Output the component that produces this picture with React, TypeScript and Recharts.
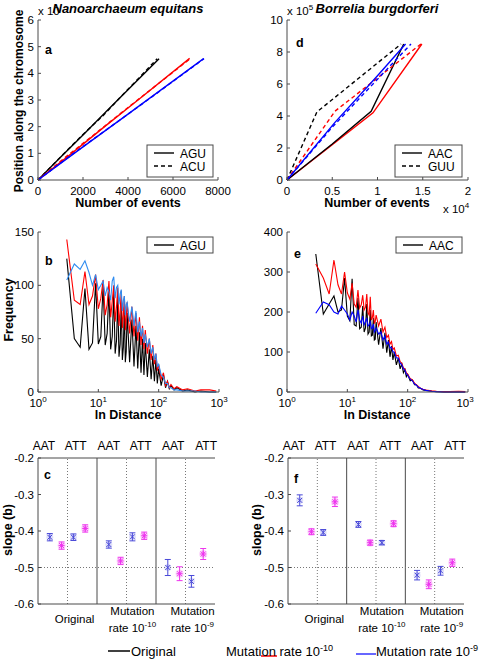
import React from 'react';
import { LineChart, Line, XAxis, YAxis, ScatterChart, Scatter, ErrorBar, ReferenceLine } from 'recharts';

const FONT = '"Liberation Sans", Arial, Helvetica, sans-serif';
const FRAME = '#4a4a4a';

// ---- panel a : Nanoarchaeum equitans, cumulative position (x 10^5) ----
const aBlackSolidX = [0, 1000, 2000, 3000, 4000, 5380];
const aBlackSolidY = [0, 0.85, 1.69, 2.54, 3.38, 4.55];
const aBlackDashX = [0, 1000, 2000, 2900, 3300, 3700, 4300, 5300];
const aBlackDashY = [0, 0.86, 1.71, 2.42, 2.78, 3.14, 3.66, 4.55];
const aRedSolidX = [0, 1500, 3000, 4500, 6740];
const aRedSolidY = [0, 1.0, 2.03, 3.04, 4.56];
const aRedDashX = [0, 1200, 2400, 3600, 4800, 6780];
const aRedDashY = [0, 0.84, 1.64, 2.45, 3.25, 4.56];
const aBlueSolidX = [0, 2000, 4000, 7360];
const aBlueSolidY = [0, 1.24, 2.47, 4.55];
const aBlueDashX = [0, 1500, 3000, 5000, 7380];
const aBlueDashY = [0, 0.95, 1.86, 3.08, 4.55];

// ---- panel d : Borrelia burgdorferi (x in 10^4, y in 10^5) ----
const dBlackSolidX = [0, 0.5, 0.93, 1.29];
const dBlackSolidY = [0, 2.25, 4.3, 8.5];
const dRedSolidX = [0, 0.5, 0.95, 1.49];
const dRedSolidY = [0, 2.2, 4.2, 8.5];
const dBlackDashX = [0, 0.33, 1.26];
const dBlackDashY = [0, 4.25, 8.5];
const dRedDashX = [0, 0.53, 1.48];
const dRedDashY = [0, 4.3, 8.5];
const dBlueSolidX = [0, 0.53, 0.99, 1.31];
const dBlueSolidY = [0, 3.6, 6.45, 8.5];
const dBlueDashX = [0, 0.5, 1.0, 1.37];
const dBlueDashY = [0, 3.3, 6.3, 8.5];

// ---- panels b / e : frequency vs distance ----
const distX = [
  3, 4, 5, 6, 7, 8, 9, 10, 11, 12, 13, 14, 15, 16, 17, 18, 19, 20, 21, 22, 23, 24, 25, 26, 27, 28, 29, 30,
  33, 36, 39, 42, 45, 48, 51, 54, 57, 60,
  65, 70, 75, 80, 85, 90, 95, 100,
  110, 120, 130, 140, 150, 160, 180, 200,
  250, 300, 400, 500, 700, 900,
];
const bBlack = [
  125, 50, 42, 97, 40, 46, 102, 45, 52, 100, 44, 55, 96, 40, 52, 92, 36, 48, 88, 33, 45, 84, 30, 42, 80, 28, 38, 74,
  28, 68, 24, 62, 22, 56, 18, 50, 16, 46,
  14, 40, 12, 34, 10, 30, 8, 22,
  6, 16, 4, 10, 3, 6, 2, 4,
  1, 2, 0, 1, 0, 0,
];
const bRed = [
  143, 86, 82, 113, 82, 90, 110, 78, 88, 105, 72, 82, 104, 70, 85, 100, 66, 80, 98, 62, 76, 95, 60, 72, 90, 58, 70, 84,
  55, 80, 52, 74, 48, 70, 44, 62, 40, 58,
  36, 50, 30, 44, 26, 36, 20, 26,
  12, 18, 6, 10, 4, 7, 3, 5,
  2, 3, 1, 2, 2, 1,
];
const bBlue = [
  105, 120, 115, 123, 112, 100, 110, 96, 100, 104, 90, 98, 94, 86, 104, 108, 88, 98, 100, 82, 92, 96, 76, 86, 90, 72, 82, 84,
  66, 80, 62, 76, 56, 66, 52, 60, 46, 54,
  42, 50, 36, 42, 30, 36, 24, 26,
  16, 14, 8, 8, 4, 4, 2, 2,
  1, 1, 1, 0, 0, 0,
];
const eBlack = [
  345, 195, 220, 240, 200, 205, 285, 190, 178, 283, 168, 165, 235, 158, 162, 215, 150, 160, 220, 145, 150, 205, 140, 142, 185, 130, 132, 175,
  118, 160, 108, 148, 98, 130, 88, 115, 80, 100,
  68, 85, 58, 70, 48, 56, 38, 44,
  28, 30, 18, 18, 10, 10, 5, 4,
  2, 1, 0, 0, 0, 0,
];
const eRed = [
  320, 285, 245, 330, 268, 245, 300, 248, 232, 272, 220, 212, 255, 210, 218, 242, 205, 212, 245, 198, 192, 238, 180, 186, 205, 172, 176, 192,
  165, 182, 150, 162, 136, 142, 120, 126, 106, 110,
  90, 92, 76, 72, 60, 58, 48, 45,
  34, 30, 22, 18, 14, 10, 7, 5,
  3, 2, 1, 1, 2, 1,
];
const eBlue = [
  197, 225, 218, 200, 195, 215, 205, 195, 180, 200, 190, 175, 205, 180, 172, 190, 168, 175, 185, 165, 168, 175, 158, 160, 170, 150, 154, 160,
  145, 150, 130, 140, 120, 125, 110, 112, 100, 100,
  85, 85, 72, 68, 58, 55, 45, 42,
  32, 28, 20, 17, 12, 10, 6, 4,
  2, 1, 0, 0, 0, 0,
];

// ---- panels c / f : slope (b) with error bars ----
const topTickPos = [0.1, 0.64, 1.2, 1.74, 2.29, 2.85];
const topLabels = ['AAT', 'ATT', 'AAT', 'ATT', 'AAT', 'ATT'];
const catTickPos = [0.62, 1.6, 2.62];
const catLine1 = ['', 'Mutation', 'Mutation'];
const catLine2 = ['Original', 'rate 10', 'rate 10'];
const catSup = ['', '-10', '-9'];

const slopeBlueX = [0.2, 0.6, 1.2, 1.6, 2.2, 2.6];
const slopeMagX = [0.4, 0.8, 1.4, 1.8, 2.4, 2.8];
const cBlueY = [-0.417, -0.417, -0.437, -0.416, -0.5, -0.538];
const cBlueErr = [0.01, 0.009, 0.01, 0.011, 0.022, 0.016];
const cMagY = [-0.44, -0.393, -0.482, -0.413, -0.517, -0.463];
const cMagErr = [0.01, 0.01, 0.01, 0.01, 0.019, 0.015];
const fBlueY = [-0.316, -0.404, -0.382, -0.432, -0.521, -0.509];
const fBlueErr = [0.015, 0.008, 0.008, 0.006, 0.013, 0.012];
const fMagY = [-0.402, -0.32, -0.432, -0.38, -0.546, -0.487];
const fMagErr = [0.008, 0.013, 0.007, 0.008, 0.012, 0.01];

const zip = (xs: number[], ys: number[]) => xs.map((x, i) => ({ x, y: ys[i] }));
const zipErr = (xs: number[], ys: number[], es: number[]) => xs.map((x, i) => ({ x, y: ys[i], err: es[i] }));
const table = (ys: number[]) => distX.map((x, i) => ({ x, y: ys[i] }));

type Series = { data: { x: number; y: number }[]; color: string; dash?: string };

const tickStyle = { fill: '#000', fontSize: 11.5 };

const PowTick = (props: any) => {
  const { x, y, payload } = props;
  const exp = Math.round(Math.log10(payload.value));
  return (
    <text x={x} y={y + 13} textAnchor="middle" fontSize={11.5} fill="#000">
      <tspan>10</tspan>
      <tspan fontSize={8} dy={-5}>{exp}</tspan>
    </text>
  );
};

const TopTick = (props: any) => {
  const { x, y, payload } = props;
  const i = topTickPos.indexOf(payload.value);
  return (
    <text x={x} y={y} textAnchor="middle" fontSize={12} fill="#000">
      {topLabels[i] ?? ''}
    </text>
  );
};

const CatTick = (props: any) => {
  const { x, y, payload } = props;
  const index = catTickPos.indexOf(payload.value);
  if (!catLine1[index]) {
    return (
      <text x={x} y={y + 19} textAnchor="middle" fontSize={11.5} fill="#000">
        {catLine2[index]}
      </text>
    );
  }
  return (
    <g>
      <text x={x} y={y + 11} textAnchor="middle" fontSize={11.5} fill="#000">
        {catLine1[index]}
      </text>
      <text x={x} y={y + 28} textAnchor="middle" fontSize={11.5} fill="#000">
        <tspan>{catLine2[index]}</tspan>
        <tspan fontSize={8} dy={-5}>{catSup[index]}</tspan>
      </text>
    </g>
  );
};

const XMark = (props: any) => {
  const { cx, cy } = props;
  const r = 2.5;
  return (
    <g>
      <circle cx={cx} cy={cy} r={3.5} fill="#6060e0" opacity={0.2} />
      <path
        d={`M${cx - r},${cy - r}L${cx + r},${cy + r}M${cx - r},${cy + r}L${cx + r},${cy - r}`}
        stroke="#4848d8"
        strokeWidth={1}
      />
    </g>
  );
};

const StarMark = (props: any) => {
  const { cx, cy } = props;
  const r = 2.5;
  return (
    <g>
      <circle cx={cx} cy={cy} r={4} fill="#f050f0" opacity={0.25} />
      <path
        d={`M${cx - r},${cy - r}L${cx + r},${cy + r}M${cx - r},${cy + r}L${cx + r},${cy - r}M${cx - 3},${cy}L${cx + 3},${cy}M${cx},${cy - 3}L${cx},${cy + 3}`}
        stroke="#ee33ee"
        strokeWidth={1}
      />
    </g>
  );
};

// the first series is bound to the top/right axes (same domains) so those axes get ticks too
function PositionPanel(props: {
  left: number; width: number; yw: number; right: number;
  xMax: number; xTicks: number[]; yMax: number; yTicks: number[]; series: Series[];
}) {
  const { left, width, yw, right, xMax, xTicks, yMax, yTicks, series } = props;
  return (
    <div style={{ position: 'absolute', left, top: 0 }}>
      <LineChart width={width} height={215} margin={{ top: 20, right, left: 0, bottom: 0 }}>
        <XAxis xAxisId="b" type="number" dataKey="x" domain={[0, xMax]} ticks={xTicks} height={35}
          tick={tickStyle} tickSize={-3} tickMargin={10} axisLine={{ stroke: FRAME }} tickLine={{ stroke: FRAME }} />
        <XAxis xAxisId="t" orientation="top" type="number" dataKey="x" domain={[0, xMax]} ticks={xTicks} height={0}
          tickFormatter={() => ''} tickSize={-3} axisLine={{ stroke: FRAME }} tickLine={{ stroke: FRAME }} />
        <YAxis yAxisId="l" type="number" domain={[0, yMax]} ticks={yTicks} width={yw}
          tick={tickStyle} tickSize={-3} tickMargin={7} axisLine={{ stroke: FRAME }} tickLine={{ stroke: FRAME }} />
        <YAxis yAxisId="r" orientation="right" type="number" domain={[0, yMax]} ticks={yTicks} width={0}
          tickFormatter={() => ''} tickSize={-3} axisLine={{ stroke: FRAME }} tickLine={{ stroke: FRAME }} />
        {series.map((s, i) => (
          <Line key={i} xAxisId={i === 0 ? 't' : 'b'} yAxisId={i === 0 ? 'r' : 'l'} type="linear" data={s.data} dataKey="y" stroke={s.color}
            strokeWidth={1.4} strokeDasharray={s.dash} dot={false} isAnimationActive={false} />
        ))}
      </LineChart>
    </div>
  );
}

function FreqPanel(props: {
  left: number; width: number; yw: number; right: number; yMax: number; yTicks: number[]; series: Series[];
}) {
  const { left, width, yw, right, yMax, yTicks, series } = props;
  const logTicks = [1, 10, 100, 1000];
  return (
    <div style={{ position: 'absolute', left, top: 220 }}>
      <LineChart width={width} height={205} margin={{ top: 12, right, left: 0, bottom: 0 }}>
        <XAxis xAxisId="b" type="number" scale="log" dataKey="x" domain={[1, 1000]} ticks={logTicks} height={33}
          tick={<PowTick />} tickSize={-3} tickMargin={5} axisLine={{ stroke: FRAME }} tickLine={{ stroke: FRAME }} allowDataOverflow />
        <XAxis xAxisId="t" orientation="top" type="number" scale="log" dataKey="x" domain={[1, 1000]} ticks={logTicks} height={0}
          tickFormatter={() => ''} tickSize={-3} axisLine={{ stroke: FRAME }} tickLine={{ stroke: FRAME }} allowDataOverflow />
        <YAxis yAxisId="l" type="number" domain={[0, yMax]} ticks={yTicks} width={yw}
          tick={tickStyle} tickSize={-3} tickMargin={7} axisLine={{ stroke: FRAME }} tickLine={{ stroke: FRAME }} />
        <YAxis yAxisId="r" orientation="right" type="number" domain={[0, yMax]} ticks={yTicks} width={0}
          tickFormatter={() => ''} tickSize={-3} axisLine={{ stroke: FRAME }} tickLine={{ stroke: FRAME }} />
        {series.map((s, i) => (
          <Line key={i} xAxisId={i === 0 ? 't' : 'b'} yAxisId={i === 0 ? 'r' : 'l'} type="linear" data={s.data} dataKey="y" stroke={s.color}
            strokeWidth={1.1} dot={false} isAnimationActive={false} />
        ))}
      </LineChart>
    </div>
  );
}

function SlopePanel(props: {
  left: number; width: number; yw: number; right: number;
  blue: { x: number; y: number; err: number }[]; mag: { x: number; y: number; err: number }[];
}) {
  const { left, width, yw, right, blue, mag } = props;
  const yTicks = [-0.6, -0.5, -0.4, -0.3, -0.2];
  return (
    <div style={{ position: 'absolute', left, top: 430 }}>
      <ScatterChart width={width} height={210} margin={{ top: 0, right, left: 0, bottom: 0 }}>
        <XAxis xAxisId="t" orientation="top" type="number" dataKey="x" domain={[0, 3]} ticks={topTickPos} height={28}
          interval={0} tick={<TopTick />} tickSize={0} tickMargin={8} tickLine={false} axisLine={{ stroke: FRAME }} />
        <XAxis xAxisId="b" type="number" dataKey="x" domain={[0, 3]} ticks={catTickPos} height={36}
          interval={0} tick={<CatTick />} tickSize={0} tickMargin={0} tickLine={false} axisLine={{ stroke: FRAME }} />
        <YAxis yAxisId="l" type="number" dataKey="y" domain={[-0.6, -0.2]} ticks={yTicks} width={yw}
          tick={tickStyle} tickSize={-3} tickMargin={7} axisLine={{ stroke: FRAME }} tickLine={{ stroke: FRAME }} />
        <YAxis yAxisId="r" orientation="right" type="number" dataKey="y" domain={[-0.6, -0.2]} ticks={yTicks} width={0}
          tickFormatter={() => ''} tickSize={-3} axisLine={{ stroke: FRAME }} tickLine={{ stroke: FRAME }} />
        {[0.5, 1.5, 2.5].map((v) => (
          <ReferenceLine key={v} xAxisId="b" yAxisId="l" x={v} stroke="#777" strokeDasharray="1 2" />
        ))}
        {[1, 2].map((v) => (
          <ReferenceLine key={v} xAxisId="b" yAxisId="l" x={v} stroke={FRAME} />
        ))}
        <ReferenceLine xAxisId="b" yAxisId="l" y={-0.5} stroke="#777" strokeDasharray="1 2" />
        <Scatter xAxisId="b" yAxisId="l" data={blue} dataKey="y" shape={<XMark />} isAnimationActive={false}>
          <ErrorBar dataKey="err" direction="y" width={3} stroke="#4848d8" strokeWidth={1} />
        </Scatter>
        <Scatter xAxisId="t" yAxisId="r" data={mag} dataKey="y" shape={<StarMark />} isAnimationActive={false}>
          <ErrorBar dataKey="err" direction="y" width={3} stroke="#ee33ee" strokeWidth={1} />
        </Scatter>
      </ScatterChart>
    </div>
  );
}

const Sup = ({ x, y, base, exp, size = 11.5, bold = false }: any) => (
  <text x={x} y={y} fontSize={size} fontWeight={bold ? 'bold' : 'normal'} fill="#000">
    <tspan>{base}</tspan>
    <tspan fontSize={size * 0.7} dy={-5}>{exp}</tspan>
  </text>
);

const PanelLegend = ({ x, y, w, h, labels }: { x: number; y: number; w: number; h: number; labels: { text: string; dash?: string }[] }) => (
  <g>
    <rect x={x} y={y} width={w} height={h} fill="#fff" stroke={FRAME} strokeWidth={1} />
    {labels.map((l, i) => (
      <g key={i}>
        <line x1={x + 7} x2={x + 27} y1={y + 8 + i * 13} y2={y + 8 + i * 13} stroke="#000" strokeWidth={1.4} strokeDasharray={l.dash} />
        <text x={x + 33} y={y + 12.5 + i * 13} fontSize={12} fill="#000">{l.text}</text>
      </g>
    ))}
  </g>
);

export default function App() {
  const aSeries: Series[] = [
    { data: zip(aBlackSolidX, aBlackSolidY), color: '#000' },
    { data: zip(aBlackDashX, aBlackDashY), color: '#000', dash: '4 3' },
    { data: zip(aRedSolidX, aRedSolidY), color: '#ff0000' },
    { data: zip(aRedDashX, aRedDashY), color: '#ff0000', dash: '4 3' },
    { data: zip(aBlueSolidX, aBlueSolidY), color: '#0000ff' },
    { data: zip(aBlueDashX, aBlueDashY), color: '#0000ff', dash: '4 3' },
  ];
  const dSeries: Series[] = [
    { data: zip(dRedSolidX, dRedSolidY), color: '#ff0000' },
    { data: zip(dBlackSolidX, dBlackSolidY), color: '#000' },
    { data: zip(dBlackDashX, dBlackDashY), color: '#000', dash: '4 3' },
    { data: zip(dRedDashX, dRedDashY), color: '#ff0000', dash: '4 3' },
    { data: zip(dBlueSolidX, dBlueSolidY), color: '#0000ff' },
    { data: zip(dBlueDashX, dBlueDashY), color: '#0000ff', dash: '4 3' },
  ];
  const bSeries: Series[] = [
    { data: table(bBlack), color: '#000' },
    { data: table(bRed), color: '#ff0000' },
    { data: table(bBlue), color: '#2f8cf0' },
  ];
  const eSeries: Series[] = [
    { data: table(eBlack), color: '#000' },
    { data: table(eRed), color: '#ff0000' },
    { data: table(eBlue), color: '#0000ff' },
  ];

  return (
    <div style={{ position: 'absolute', left: 0, top: 0, width: 481, height: 660, background: '#fff', fontFamily: FONT, overflow: 'hidden' }}>
      <PositionPanel left={0} width={240} yw={38} right={22} xMax={8000} xTicks={[0, 2000, 4000, 6000, 8000]}
        yMax={6} yTicks={[0, 1, 2, 3, 4, 5, 6]} series={aSeries} />
      <PositionPanel left={240} width={241} yw={47} right={13} xMax={2} xTicks={[0, 0.5, 1, 1.5, 2]}
        yMax={10} yTicks={[0, 2, 4, 6, 8, 10]} series={dSeries} />
      <FreqPanel left={0} width={240} yw={38} right={21} yMax={150} yTicks={[0, 50, 100, 150]} series={bSeries} />
      <FreqPanel left={240} width={241} yw={47} right={13} yMax={400} yTicks={[0, 100, 200, 300, 400]} series={eSeries} />
      <SlopePanel left={0} width={240} yw={38} right={25} blue={zipErr(slopeBlueX, cBlueY, cBlueErr)} mag={zipErr(slopeMagX, cMagY, cMagErr)} />
      <SlopePanel left={240} width={241} yw={48} right={17} blue={zipErr(slopeBlueX, fBlueY, fBlueErr)} mag={zipErr(slopeMagX, fMagY, fMagErr)} />

      <svg width={481} height={660} style={{ position: 'absolute', left: 0, top: 0, pointerEvents: 'none', fontFamily: FONT }}>
        {/* exponents */}
        <text x={38} y={15} fontSize={11.5} fill="#000">x 10</text>
        <Sup x={287} y={15} base="x 10" exp="5" />
        <Sup x={443} y={213} base="x 10" exp="4" />

        {/* titles */}
        <text x={128} y={13} textAnchor="middle" fontSize={13} fontWeight="bold" fontStyle="italic" fill="#000">Nanoarchaeum equitans</text>
        <text x={377} y={13} textAnchor="middle" fontSize={13} fontWeight="bold" fontStyle="italic" fill="#000">Borrelia burgdorferi</text>

        {/* axis labels */}
        <text x={23} y={101} transform="rotate(-90 23 101)" textAnchor="middle" fontSize={12} fontWeight="bold" fill="#000">Position along the chromosome</text>
        <text x={128} y={207} textAnchor="middle" fontSize={12.5} fontWeight="bold" fill="#000">Number of events</text>
        <text x={377} y={207} textAnchor="middle" fontSize={12.5} fontWeight="bold" fill="#000">Number of events</text>
        <text x={12.5} y={310} transform="rotate(-90 12.5 310)" textAnchor="middle" fontSize={12.5} fontWeight="bold" fill="#000">Frequency</text>
        <text x={128} y={419} textAnchor="middle" fontSize={12.5} fontWeight="bold" fill="#000">ln Distance</text>
        <text x={377} y={419} textAnchor="middle" fontSize={12.5} fontWeight="bold" fill="#000">ln Distance</text>
        <text x={12} y={530} transform="rotate(-90 12 530)" textAnchor="middle" fontSize={12.5} fontWeight="bold" fill="#000">slope (b)</text>
        <text x={261} y={530} transform="rotate(-90 261 530)" textAnchor="middle" fontSize={12.5} fontWeight="bold" fill="#000">slope (b)</text>

        {/* panel letters */}
        <text x={45} y={54} fontSize={12.5} fontWeight="bold" fill="#000">a</text>
        <text x={296} y={47} fontSize={12.5} fontWeight="bold" fill="#000">d</text>
        <text x={45} y={265} fontSize={12.5} fontWeight="bold" fill="#000">b</text>
        <text x={294} y={258} fontSize={12.5} fontWeight="bold" fill="#000">e</text>
        <text x={44} y={479} fontSize={12.5} fontWeight="bold" fill="#000">c</text>
        <text x={294} y={483} fontSize={12.5} fontWeight="bold" fill="#000">f</text>

        {/* in-panel legends */}
        <PanelLegend x={147} y={145} w={66} h={32} labels={[{ text: 'AGU' }, { text: 'ACU', dash: '4 3' }]} />
        <PanelLegend x={395} y={145} w={67} h={32} labels={[{ text: 'AAC' }, { text: 'GUU', dash: '4 3' }]} />
        <PanelLegend x={147} y={237} w={66} h={16} labels={[{ text: 'AGU' }]} />
        <PanelLegend x={396} y={237} w={66} h={16} labels={[{ text: 'AAC' }]} />

        {/* figure legend */}
        <line x1={108} x2={130} y1={651} y2={651} stroke="#000" strokeWidth={1.5} />
        <text x={131} y={656} fontSize={13} fill="#000">Original</text>
        <line x1={261} x2={277} y1={656} y2={656} stroke="#ff0000" strokeWidth={1.5} />
        <Sup x={226} y={656} base="Mutation rate 10" exp="-10" size={13} />
        <line x1={356} x2={376} y1={654} y2={654} stroke="#0000ff" strokeWidth={1.2} />
        <Sup x={376} y={656} base="Mutation rate 10" exp="-9" size={13} />
      </svg>
    </div>
  );
}
